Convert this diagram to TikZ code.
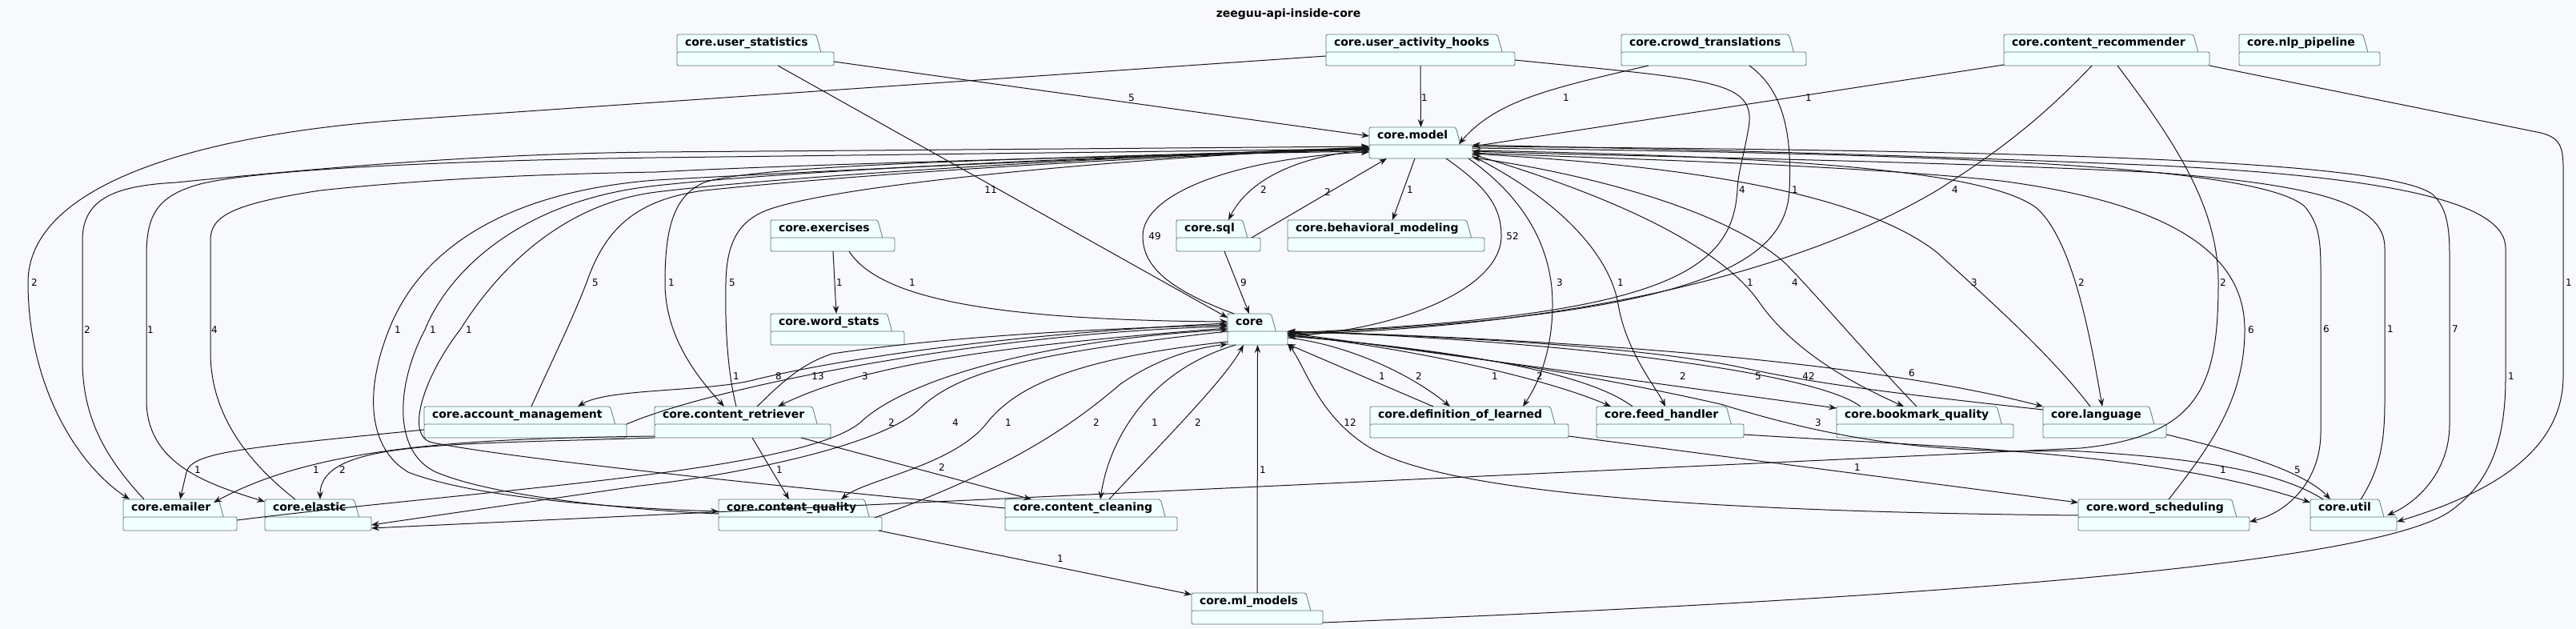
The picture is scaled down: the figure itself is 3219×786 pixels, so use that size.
\documentclass[tikz,border=0pt]{standalone}
\usepackage{fontspec}
\setmainfont{DejaVu Sans}
\usetikzlibrary{arrows.meta,calc}
\definecolor{bgColor}{HTML}{F8F9FD}
\definecolor{pkgFill}{HTML}{F1FFFF}
\definecolor{pkgLine}{HTML}{5F7676}
\definecolor{depColor}{HTML}{181818}
\tikzset{
	pkgarea/.style={rectangle, inner sep=0pt, outer sep=0pt, minimum height=39bp},
	pkgname/.style={rectangle, inner xsep=10bp, inner ysep=0pt, outer sep=0pt, minimum height=22bp,
		text height=10bp, text depth=3bp, font=\bfseries\fontsize{14bp}{16bp}\selectfont},
	pkgshape/.style={draw=pkgLine, fill=pkgFill, line width=0.8bp, rounded corners=2bp},
	dep/.style={draw=depColor, line width=1bp, -{Stealth[length=10bp,width=7.5bp,inset=3.5bp]}},
	lbl/.style={inner sep=0pt, font=\fontsize{12bp}{14bp}\selectfont},
	title/.style={font=\bfseries\fontsize{14bp}{16bp}\selectfont}
}
% #1 name, #2 x, #3 y, #4 body width, #5 text
\newcommand{\pkgnode}[5]{%
	\node[pkgarea, minimum width=#4bp, anchor=north west] (#1) at (#2,#3) {};
	\node[pkgname, anchor=north west] (#1-t) at (#2,#3) {\phantom{#5}};
	\filldraw[pkgshape] (#1-t.south west) -- (#1-t.north west) -- (#1-t.north east) -- ($(#1-t.south east)+(6,0)$);
	\filldraw[pkgshape] (#1-t.south west) rectangle (#1.south east);
	\node[pkgname, anchor=north west] (#1-l) at (#2,#3) {#5};
}

\begin{document}
\begin{tikzpicture}[x=1bp, y=-1bp]
	\fill[bgColor] (0,0) rectangle (3219,786);
	\useasboundingbox (0,0) rectangle (3219,786);
	\node[title] (title) at (1610,18) {zeeguu-api-inside-core};

	\pkgnode{us}{846}{43}{196}{core.user\_statistics}
	\pkgnode{uah}{1657}{43}{236}{core.user\_activity\_hooks}
	\pkgnode{ct}{2026}{43}{231}{core.crowd\_translations}
	\pkgnode{cr}{2504}{43}{257}{core.content\_recommender}
	\pkgnode{nlp}{2798}{43}{176}{core.nlp\_pipeline}
	\pkgnode{model}{1711}{159}{129}{core.model}
	\pkgnode{ex}{963}{275}{155}{core.exercises}
	\pkgnode{sql}{1470}{275}{105}{core.sql}
	\pkgnode{bm}{1609}{275}{246}{core.behavioral\_modeling}
	\pkgnode{wst}{963}{392}{167}{core.word\_stats}
	\pkgnode{core}{1534}{392}{75}{core}
	\pkgnode{am}{530}{508}{253}{core.account\_management}
	\pkgnode{ret}{818}{508}{220}{core.content\_retriever}
	\pkgnode{dol}{1712}{508}{248}{core.definition\_of\_learned}
	\pkgnode{fh}{1995}{508}{184}{core.feed\_handler}
	\pkgnode{bq}{2295}{508}{221}{core.bookmark\_quality}
	\pkgnode{lang}{2553}{508}{154}{core.language}
	\pkgnode{em}{154}{624}{142}{core.emailer}
	\pkgnode{el}{331}{624}{133}{core.elastic}
	\pkgnode{cq}{898}{624}{204}{core.content\_quality}
	\pkgnode{cc}{1256}{624}{215}{core.content\_cleaning}
	\pkgnode{wsch}{2597}{624}{214}{core.word\_scheduling}
	\pkgnode{util}{2887}{624}{108}{core.util}
	\pkgnode{ml}{1489}{741}{164}{core.ml\_models}

	% top row
	\draw[dep] ($(us.north west)+(196,34)$) -- ($(model.north west)+(0,11)$) node[lbl] at (1414,122) {5};
	\draw[dep] ($(us.north west)+(126,39)$) -- ($(core.north west)+(0,5)$) node[lbl] at (1238,237) {11};
	\draw[dep] (uah.south) -- (model.north) node[lbl] at (1780,122) {1};
	\draw[dep] ($(uah.north west)+(0,27)$) -- (500,150) .. controls (250,168) and (35,230) .. (35,353) .. controls (35,480) and (95,580) .. ($(em.north west)+(8,0)$) node[lbl] at (43,353) {2};
	\draw[dep] ($(uah.north west)+(236,32)$) .. controls (2140,100) and (2195,100) .. (2185,160) .. controls (2178,200) and (2172,215) .. (2171,237) .. controls (2165,340) and (2080,395) .. ($(core.north west)+(75,24)$) node[lbl] at (2177,237) {4};
	\draw[dep] ($(ct.north west)+(34,39)$) .. controls (1940,110) and (1870,125) .. ($(model.north west)+(112,21)$) node[lbl] at (1957,122) {1};
	\draw[dep] ($(ct.north west)+(160,39)$) .. controls (2225,110) and (2240,160) .. (2236,237) .. controls (2232,330) and (2120,395) .. ($(core.north west)+(75,25)$) node[lbl] at (2243,237) {1};
	\draw[dep] ($(cr.north west)+(0,38)$) -- ($(model.north west)+(129,24)$) node[lbl] at (2260,122) {1};
	\draw[dep] ($(cr.north west)+(110,39)$) .. controls (2540,160) and (2480,200) .. (2422,237) .. controls (2300,310) and (2050,405) .. ($(core.north west)+(75,26)$) node[lbl] at (2443,237) {4};
	\draw[dep] ($(cr.north west)+(142,39)$) .. controls (2720,180) and (2772,260) .. (2772,353) .. controls (2772,480) and (2750,545) .. (2600,560) -- ($(el.north west)+(133,36)$) node[lbl] at (2778,353) {2};
	\draw[dep] ($(cr.north west)+(257,39)$) -- (3175,166) .. controls (3198,172) and (3203,182) .. (3203,210) -- (3203,470) .. controls (3203,570) and (3100,620) .. ($(util.north west)+(108,28)$) node[lbl] at (3210,353) {1};

	% core.model, core.sql, core.exercises
	\draw[dep] ($(model.north west)+(57,39)$) -- ($(bm.north west)+(131,0)$) node[lbl] at (1762,237) {1};
	\draw[dep] ($(model.north west)+(0,28)$) .. controls (1620,195) and (1560,225) .. ($(sql.north west)+(65,0)$) node[lbl] at (1579,237) {2};
	\draw[dep] ($(sql.north west)+(94,22)$) -- ($(model.north west)+(22,39)$) node[lbl] at (1659,240) {2};
	\draw[dep] ($(sql.north west)+(60,39)$) -- ($(core.north west)+(27,0)$) node[lbl] at (1554,353) {9};
	\draw[dep] ($(model.north west)+(96,39)$) .. controls (1860,235) and (1876,260) .. (1876,295) .. controls (1876,360) and (1750,412) .. ($(core.north west)+(75,28)$) node[lbl] at (1890,295) {52};
	\draw[dep] ($(core.north west)+(8,0)$) .. controls (1455,360) and (1428,330) .. (1428,295) .. controls (1428,240) and (1550,197) .. ($(model.north west)+(0,31)$) node[lbl] at (1443,295) {49};
	\draw[dep] ($(ex.north west)+(78,39)$) -- ($(wst.north west)+(82,0)$) node[lbl] at (1049,353) {1};
	\draw[dep] ($(ex.north west)+(98,39)$) .. controls (1100,375) and (1250,400) .. ($(core.north west)+(0,10)$) node[lbl] at (1140,353) {1};

	% left bundle into core.model
	\draw[dep] ($(em.north west)+(26,0)$) .. controls (130,570) and (103,520) .. (103,450) -- (103,300) .. controls (103,245) and (150,232) .. (220,228) .. controls (400,210) and (600,192) .. (820,190) -- ($(model.north west)+(0,24)$) node[lbl] at (109,412) {2};
	\draw[dep] ($(model.north west)+(0,27)$) -- (820,197) .. controls (600,200) and (330,210) .. (250,230) .. controls (195,245) and (183,270) .. (183,320) -- (183,500) .. controls (183,580) and (260,605) .. ($(el.north west)+(0,3)$) node[lbl] at (188,412) {1};
	\draw[dep] ($(el.north west)+(38,0)$) .. controls (300,570) and (263,510) .. (263,440) -- (263,300) .. controls (263,270) and (290,255) .. (400,238) .. controls (550,222) and (700,217) .. (820,215) .. controls (1000,205) and (1500,192) .. ($(model.north west)+(0,30)$) node[lbl] at (268,412) {4};
	\draw[dep] ($(model.north west)+(0,28)$) .. controls (1400,195) and (1000,215) .. (820,225) .. controls (650,238) and (530,300) .. (486,412) .. controls (455,490) and (460,560) .. (510,590) .. controls (600,625) and (800,636) .. ($(cq.north west)+(0,15)$) node[lbl] at (497,412) {1};
	\draw[dep] ($(cq.north west)+(0,18)$) .. controls (800,638) and (620,622) .. (545,590) .. controls (490,565) and (495,480) .. (531,412) .. controls (560,340) and (650,250) .. (820,232) .. controls (1000,212) and (1400,195) .. ($(model.north west)+(0,26)$) node[lbl] at (541,412) {1};
	\draw[dep] ($(cc.north west)+(0,11)$) .. controls (1000,610) and (650,575) .. (540,553) .. controls (505,545) and (530,470) .. (575,412) .. controls (620,340) and (700,255) .. (820,240) .. controls (1000,218) and (1400,196) .. ($(model.north west)+(0,25)$) node[lbl] at (586,412) {1};
	\draw[dep] ($(am.north west)+(134,0)$) .. controls (690,450) and (715,400) .. (733,353) .. controls (755,290) and (790,250) .. (880,238) .. controls (1100,215) and (1450,195) .. ($(model.north west)+(0,27)$) node[lbl] at (744,353) {5};
	\draw[dep] ($(model.north west)+(0,27)$) .. controls (1300,198) and (950,205) .. (880,228) .. controls (840,245) and (831,290) .. (831,353) .. controls (831,420) and (870,470) .. ($(ret.north west)+(87,0)$) node[lbl] at (839,353) {1};
	\draw[dep] ($(ret.north west)+(102,0)$) .. controls (908,460) and (906,400) .. (907,353) .. controls (908,300) and (925,275) .. (960,262) .. controls (1050,230) and (1400,198) .. ($(model.north west)+(0,25)$) node[lbl] at (915,353) {5};

	% around core, left and below
	\draw[dep] ($(am.north west)+(253,22)$) .. controls (900,480) and (1250,415) .. ($(core.north west)+(0,16)$) node[lbl] at (973,470) {8};
	\draw[dep] ($(core.north west)+(0,12)$) .. controls (1200,420) and (1000,460) .. (941,475) .. controls (880,490) and (760,485) .. ($(am.north west)+(192,0)$) node[lbl] at (920,470) {1};
	\draw[dep] ($(ret.north west)+(128,0)$) .. controls (975,480) and (1000,455) .. (1040,442) .. controls (1200,418) and (1400,410) .. ($(core.north west)+(0,14)$) node[lbl] at (1022,470) {13};
	\draw[dep] ($(core.north west)+(0,18)$) .. controls (1250,432) and (1080,455) .. ($(ret.north west)+(154,0)$) node[lbl] at (1081,470) {3};
	\draw[dep] ($(am.north west)+(0,29)$) .. controls (300,560) and (240,565) .. (233,590) -- ($(em.north west)+(71,0)$) node[lbl] at (247,587) {1};
	\draw[dep] ($(ret.north west)+(0,37)$) .. controls (600,548) and (400,555) .. ($(em.north west)+(113,4)$) node[lbl] at (395,587) {1};
	\draw[dep] ($(ret.north west)+(0,39)$) .. controls (560,556) and (400,550) .. ($(el.north west)+(69,0)$) node[lbl] at (428,587) {2};
	\draw[dep] ($(ret.north west)+(122,39)$) -- ($(cq.north west)+(88,0)$) node[lbl] at (974,587) {1};
	\draw[dep] ($(ret.north west)+(183,39)$) -- ($(cc.north west)+(33,0)$) node[lbl] at (1177,584) {2};
	\draw[dep] ($(em.north west)+(142,26)$) .. controls (600,612) and (1000,590) .. (1075,528) .. controls (1130,475) and (1300,425) .. ($(core.north west)+(0,20)$) node[lbl] at (1114,528) {2};
	\draw[dep] ($(core.north west)+(0,22)$) .. controls (1300,440) and (1200,462) .. (1150,510) .. controls (1100,560) and (900,596) .. (800,607) -- ($(el.north west)+(133,32)$) node[lbl] at (1194,528) {4};
	\draw[dep] ($(core.north west)+(0,35)$) .. controls (1320,450) and (1262,492) .. (1232,530) .. controls (1190,582) and (1080,600) .. ($(cq.north west)+(153,0)$) node[lbl] at (1260,528) {1};
	\draw[dep] ($(cq.north west)+(195,23)$) .. controls (1250,590) and (1330,540) .. (1400,480) .. controls (1450,445) and (1500,434) .. ($(core.north west)+(0,38)$) node[lbl] at (1370,528) {2};
	\draw[dep] ($(core.north west)+(10,39)$) .. controls (1430,465) and (1385,555) .. ($(cc.north west)+(119,0)$) node[lbl] at (1443,528) {1};
	\draw[dep] ($(cc.north west)+(130,0)$) .. controls (1450,555) and (1530,475) .. ($(core.north west)+(20,39)$) node[lbl] at (1497,528) {2};
	\draw[dep] (ml.north) -- (core.south) node[lbl] at (1578,587) {1};
	\draw[dep] ($(cq.north west)+(200,39)$) -- ($(ml.north west)+(0,2)$) node[lbl] at (1325,698) {1};

	% right of core.model
	\draw[dep] ($(model.north west)+(124,39)$) .. controls (1895,240) and (1940,300) .. (1940,380) .. controls (1940,450) and (1915,490) .. ($(dol.north west)+(191,0)$) node[lbl] at (1949,353) {3};
	\draw[dep] ($(model.north west)+(129,36)$) .. controls (1950,250) and (2012,320) .. (2022,380) .. controls (2032,440) and (2070,485) .. ($(fh.north west)+(86,0)$) node[lbl] at (2025,353) {1};
	\draw[dep] ($(model.north west)+(129,34)$) .. controls (2050,255) and (2160,320) .. (2200,380) .. controls (2250,450) and (2340,490) .. ($(bq.north west)+(84,0)$) node[lbl] at (2187,353) {1};
	\draw[dep] ($(bq.north west)+(100,0)$) .. controls (2330,440) and (2280,380) .. (2232,330) .. controls (2150,255) and (1950,212) .. ($(model.north west)+(129,38)$) node[lbl] at (2243,353) {4};
	\draw[dep] ($(lang.north west)+(59,0)$) .. controls (2560,440) and (2480,370) .. (2420,315) .. controls (2300,222) and (2000,202) .. ($(model.north west)+(129,33)$) node[lbl] at (2467,353) {3};
	\draw[dep] ($(model.north west)+(129,29)$) .. controls (2200,195) and (2480,210) .. (2545,260) .. controls (2590,300) and (2612,420) .. ($(lang.north west)+(74,0)$) node[lbl] at (2601,353) {2};
	\draw[dep] ($(wsch.north west)+(113,0)$) .. controls (2760,560) and (2805,500) .. (2805,412) .. controls (2805,320) and (2720,255) .. (2500,226) .. controls (2300,205) and (2000,198) .. ($(model.north west)+(129,32)$) node[lbl] at (2813,412) {6};
	\draw[dep] ($(model.north west)+(129,26)$) .. controls (2400,192) and (2820,205) .. (2880,258) .. controls (2898,280) and (2900,300) .. (2900,340) -- (2900,540) .. controls (2900,600) and (2860,640) .. ($(wsch.north west)+(214,28)$) node[lbl] at (2907,411) {6};
	\draw[dep] ($(util.north west)+(63,0)$) .. controls (2975,585) and (2980,550) .. (2980,500) -- (2980,310) .. controls (2980,255) and (2900,232) .. (2700,216) .. controls (2400,200) and (2000,195) .. ($(model.north west)+(129,30)$) node[lbl] at (2987,411) {1};
	\draw[dep] ($(model.north west)+(129,24)$) .. controls (2500,188) and (2980,198) .. (3040,243) .. controls (3058,260) and (3061,285) .. (3061,320) -- (3061,530) .. controls (3061,590) and (3020,628) .. ($(util.north west)+(96,20)$) node[lbl] at (3068,411) {7};
	\draw[dep] ($(ml.north west)+(164,37)$) .. controls (2300,752) and (2950,712) .. (3060,640) .. controls (3118,600) and (3131,540) .. (3131,470) -- (3131,310) .. controls (3131,255) and (3000,222) .. (2700,207) .. controls (2300,190) and (2000,185) .. ($(model.north west)+(129,22)$) node[lbl] at (3138,470) {1};

	% right of core
	\draw[dep] ($(dol.north west)+(79,0)$) -- ($(core.north west)+(75,38)$) node[lbl] at (1727,470) {1};
	\draw[dep] ($(core.north west)+(75,30)$) .. controls (1680,430) and (1760,465) .. ($(dol.north west)+(100,0)$) node[lbl] at (1773,470) {2};
	\draw[dep] ($(core.north west)+(75,26)$) .. controls (1800,440) and (1950,480) .. ($(fh.north west)+(18,0)$) node[lbl] at (1868,470) {1};
	\draw[dep] ($(fh.north west)+(45,0)$) .. controls (1990,470) and (1850,440) .. ($(core.north west)+(75,28)$) node[lbl] at (1924,470) {2};
	\draw[dep] ($(core.north west)+(75,24)$) -- ($(bq.north west)+(0,2)$) node[lbl] at (2103,470) {2};
	\draw[dep] ($(bq.north west)+(30,0)$) .. controls (2270,465) and (1950,425) .. ($(core.north west)+(75,22)$) node[lbl] at (2197,470) {5};
	\draw[dep] ($(lang.north west)+(0,4)$) .. controls (2400,495) and (2280,482) .. (2180,460) .. controls (2050,432) and (1800,420) .. ($(core.north west)+(75,22)$) node[lbl] at (2260,470) {42};
	\draw[dep] ($(core.north west)+(75,22)$) .. controls (2000,425) and (2350,455) .. (lang.north west) node[lbl] at (2389,466) {6};
	\draw[dep] ($(wsch.north west)+(0,20)$) .. controls (2200,640) and (1800,622) .. (1705,555) .. controls (1645,515) and (1630,455) .. ($(core.north west)+(75,38)$) node[lbl] at (1687,528) {12};
	\draw[dep] ($(util.north west)+(16,0)$) .. controls (2850,590) and (2750,572) .. (2583,563) .. controls (2400,568) and (2280,545) .. (2150,505) .. controls (1950,460) and (1750,432) .. ($(core.north west)+(75,27)$) node[lbl] at (2272,528) {3};
	\draw[dep] ($(dol.north west)+(248,37)$) -- ($(wsch.north west)+(0,4)$) node[lbl] at (2321,584) {1};
	\draw[dep] ($(fh.north west)+(184,35)$) .. controls (2450,560) and (2700,565) .. ($(util.north west)+(0,4)$) node[lbl] at (2778,587) {1};
	\draw[dep] ($(lang.north west)+(154,35)$) .. controls (2800,565) and (2880,590) .. ($(util.north west)+(25,0)$) node[lbl] at (2871,587) {5};
\end{tikzpicture}
\end{document}
